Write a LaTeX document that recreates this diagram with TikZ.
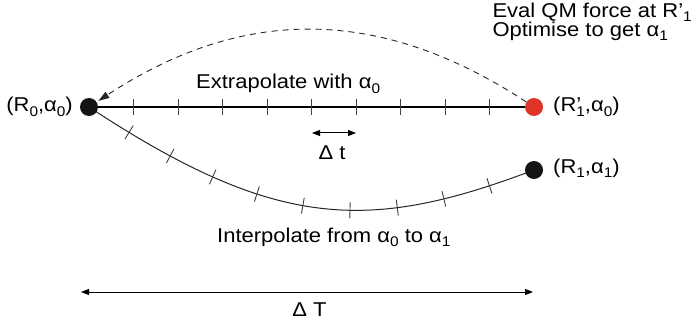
\documentclass[tikz,border=0pt]{standalone}
\usepackage{fontspec}
\setmainfont{Liberation Sans}[FakeStretch=1.1]
\usetikzlibrary{arrows.meta,decorations.markings}
\definecolor{dotred}{RGB}{224,52,40}
\definecolor{dotblack}{RGB}{20,20,20}
\newcommand\mysub[1]{\raisebox{-4.5pt}{\fontsize{14}{14}\selectfont #1}}
\begin{document}
\begin{tikzpicture}[x=1pt,y=-1pt,
  font=\fontsize{20}{20}\selectfont,
  dot/.style={circle,fill=dotblack,inner sep=0pt,minimum size=18pt},
  reddot/.style={dot,fill=dotred},
  lab/.style={inner sep=0pt},
  tickline/.style={line width=0.9pt,draw=black!75},
  ticks/.style={postaction={decorate},decoration={markings,
     mark=between positions 0.1 and 0.95 step 0.1 with {\draw[tickline] (0,-8) -- (0,8);}}},
  mainline/.style={line width=2.2pt,draw=black},
  curveline/.style={line width=1pt,draw=black!85},
  dashline/.style={line width=0.9pt,dash pattern=on 6pt off 5pt,draw=black!85},
  dimarrow/.style={line width=1pt,{Triangle[length=8pt,width=6pt]}-{Triangle[length=8pt,width=6pt]}}
]
\useasboundingbox (0,0) rectangle (693,326);

\coordinate (p0) at (89,107);
\coordinate (p1) at (534,107);
\coordinate (p2) at (534,170);

\draw[mainline,ticks] (p0) -- (p1);
\draw[curveline,ticks] (p0) .. controls (277,231) and (370,232) .. (p2);

\node[dot] (L) at (p0) {};
\node[reddot] (Rp) at (p1) {};
\node[dot] (R1) at (p2) {};

\draw[dashline,-{Triangle[length=11pt,width=7pt]},shorten >=2pt] (Rp) .. controls (380,6) and (243,6) .. (L);

\coordinate (dt1) at (312,133);
\coordinate (dt2) at (356,133);
\draw[dimarrow] (dt1) -- (dt2);
\coordinate (T1) at (81,292);
\coordinate (T2) at (533,292);
\draw[dimarrow] (T1) -- (T2);

\node[lab,anchor=base east] (eval) at (692,17.3) {Eval QM force at R’\mysub{1}};
\node[lab,anchor=base west] (opt) at (eval.base west |- 0,36.5) {Optimise to get α\mysub{1}};
\node[lab,anchor=base west] (extra) at (196,89) {Extrapolate with α\mysub{0}};
\node[lab,anchor=base east] (l0) at (73,112) {(R\mysub{0},α\mysub{0})};
\node[lab,anchor=base west] (lp) at (553,112) {(R\rlap{’}\mysub{1},α\mysub{0})};
\node[lab,anchor=base west] (l1) at (553,173) {(R\mysub{1},α\mysub{1})};
\node[lab,anchor=base] (dtl) at (332,160) {Δ t};
\node[lab,anchor=base west] (inter) at (217,242) {Interpolate from α\mysub{0} to α\mysub{1}};
\node[lab,anchor=base] (dTl) at (309.5,316) {Δ T};
\end{tikzpicture}
\end{document}
